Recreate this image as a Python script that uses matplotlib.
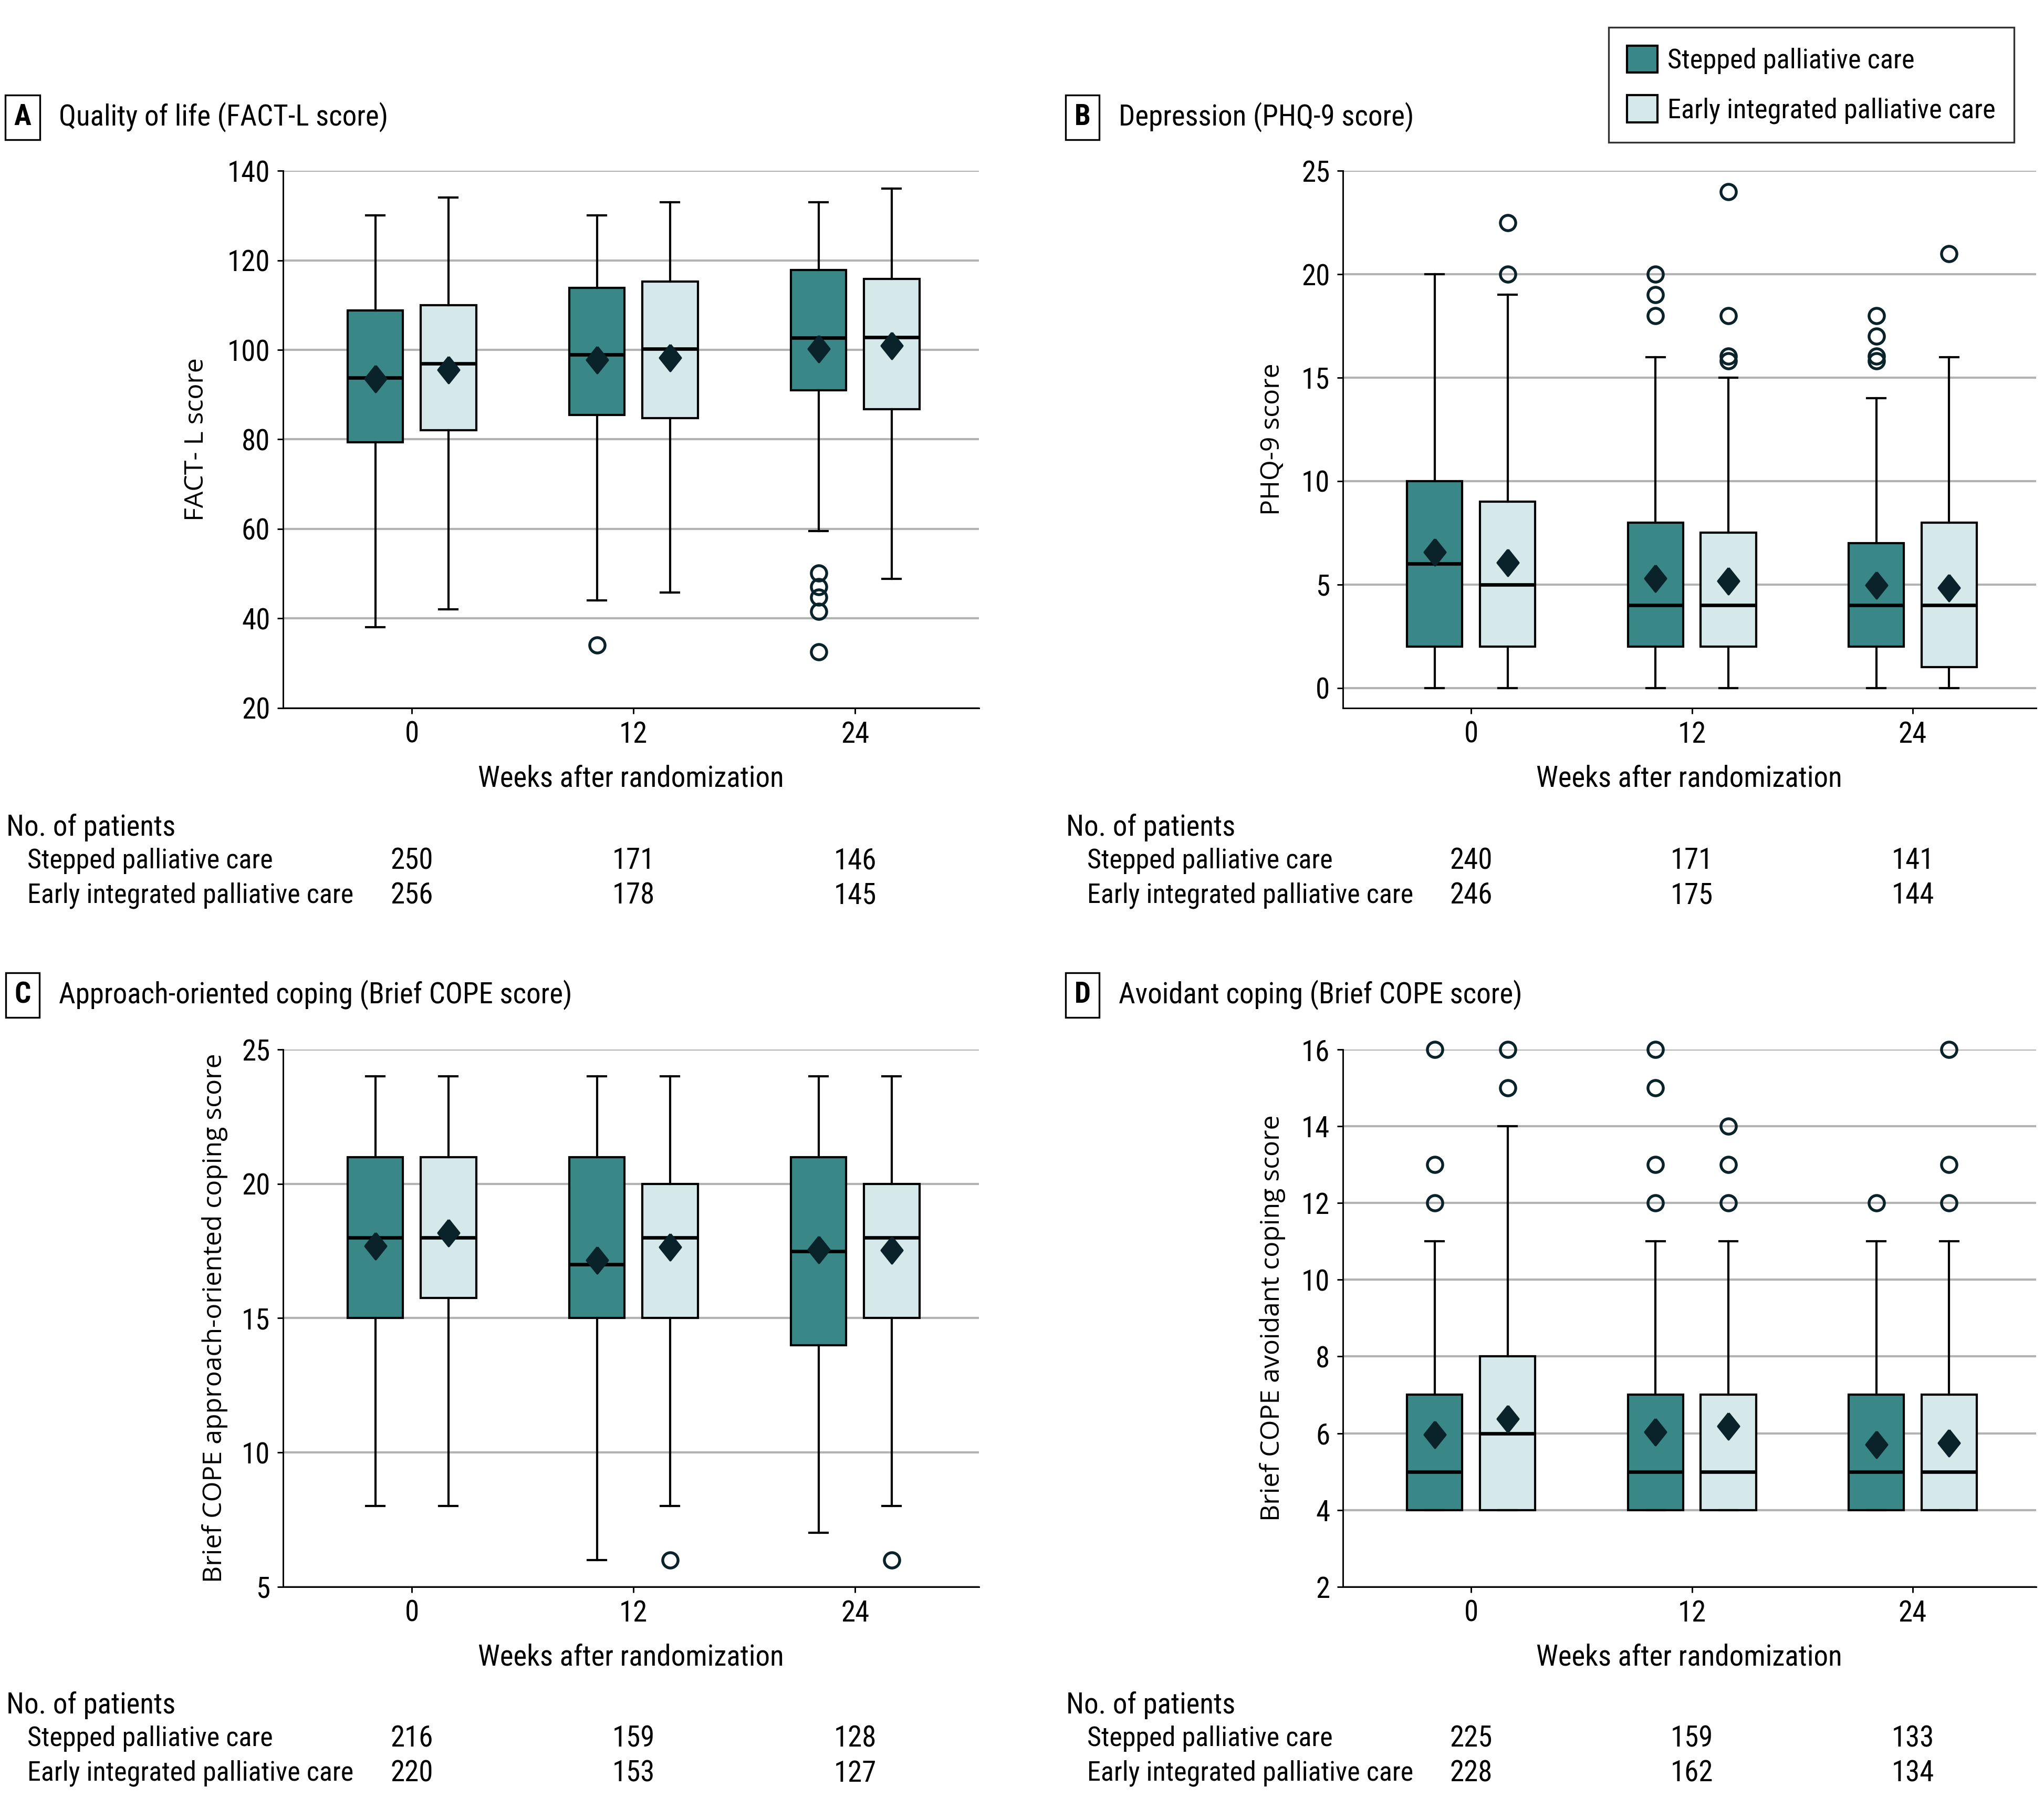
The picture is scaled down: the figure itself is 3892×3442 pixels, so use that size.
import matplotlib
matplotlib.use("Agg")
import matplotlib.pyplot as plt
import matplotlib.transforms as mtransforms
from matplotlib import font_manager as fm
from matplotlib.patches import Patch

# pick a narrow sans if one is installed (the reference uses a condensed face)
_fonts = {(f.name, f.stretch) for f in fm.fontManager.ttflist}
_names = {n for n, _ in _fonts}
FONT_STRETCH = 'normal'
if 'Liberation Sans Narrow' in _names:
    FONT = 'Liberation Sans Narrow'
elif 'Roboto Condensed' in _names:
    FONT = 'Roboto Condensed'
elif 'Open Sans Condensed' in _names:
    FONT = 'Open Sans Condensed'
elif 'DejaVu Sans Condensed' in _names:
    FONT = 'DejaVu Sans Condensed'
elif any(n == 'DejaVu Sans' and s in ('condensed', 'semi-condensed') for n, s in _fonts):
    FONT, FONT_STRETCH = 'DejaVu Sans', 'condensed'
elif any(n == 'Noto Sans' and s in ('condensed', 'semi-condensed', 'extra-condensed') for n, s in _fonts):
    FONT, FONT_STRETCH = 'Noto Sans', 'condensed'
else:
    FONT = 'DejaVu Sans'
plt.rcParams['font.family'] = [FONT, 'DejaVu Sans']
plt.rcParams['font.stretch'] = FONT_STRETCH
SCALE = 1.0 if FONT != 'DejaVu Sans' or FONT_STRETCH != 'normal' else 0.85
FS = 13.2 * SCALE      # titles, ticks, axis labels, counts
FS_ROW = 12.5 * SCALE  # group names in the patient table
FS_LEG = 12.6 * SCALE
plt.rcParams['font.size'] = FS

# ---- data (rows: stepped, early; columns: week 0, 12, 24) ----
weeks = ["0", "12", "24"]
groups = ["Stepped palliative care", "Early integrated palliative care"]

# A: FACT-L
factl_lo = [[38, 44, 59.5], [42, 45.8, 48.8]]
factl_q1 = [[79.3, 85.5, 91], [82, 84.8, 86.7]]
factl_med = [[93.8, 99, 102.7], [97, 100.3, 102.8]]
factl_q3 = [[108.8, 113.8, 117.8], [110, 115.3, 115.8]]
factl_hi = [[130, 130, 133], [134, 133, 136]]
factl_mean = [[93.5, 97.8, 100.3], [95.5, 98.3, 101]]
factl_out = [[[], [34], [50.1, 47.1, 44.7, 41.6, 32.5]], [[], [], []]]
factl_n = [[250, 171, 146], [256, 178, 145]]

# B: PHQ-9
phq_lo = [[0, 0, 0], [0, 0, 0]]
phq_q1 = [[2, 2, 2], [2, 2, 1]]
phq_med = [[6, 4, 4], [5, 4, 4]]
phq_q3 = [[10, 8, 7], [9, 7.5, 8]]
phq_hi = [[20, 16, 14], [19, 15, 16]]
phq_mean = [[6.57, 5.3, 4.98], [6.05, 5.18, 4.85]]
phq_out = [[[], [20, 19, 18], [18, 17, 16.05, 15.8]],
           [[22.5, 20], [24, 18, 16.05, 15.8], [21]]]
phq_n = [[240, 171, 141], [246, 175, 144]]

# C: approach-oriented coping
appr_lo = [[8, 6, 7], [8, 8, 8]]
appr_q1 = [[15, 15, 14], [15.75, 15, 15]]
appr_med = [[18, 17, 17.5], [18, 18, 18]]
appr_q3 = [[21, 21, 21], [21, 20, 20]]
appr_hi = [[24, 24, 24], [24, 24, 24]]
appr_mean = [[17.68, 17.16, 17.56], [18.18, 17.65, 17.53]]
appr_out = [[[], [], []], [[], [6], [6]]]
appr_n = [[216, 159, 128], [220, 153, 127]]

# D: avoidant coping
avoid_lo = [[4, 4, 4], [4, 4, 4]]
avoid_q1 = [[4, 4, 4], [4, 4, 4]]
avoid_med = [[5, 5, 5], [6, 5, 5]]
avoid_q3 = [[7, 7, 7], [8, 7, 7]]
avoid_hi = [[11, 11, 11], [14, 11, 11]]
avoid_mean = [[5.97, 6.04, 5.70], [6.38, 6.18, 5.75]]
avoid_out = [[[16, 13, 12], [16, 15, 13, 12], [12]], [[16, 15], [14, 13, 12], [16, 13, 12]]]
avoid_n = [[225, 159, 133], [228, 162, 134]]

# ---- style ----
TEAL = '#3a8787'
LIGHT = '#d5e9ea'
DARK = '#0a2229'
GRID = '#b3b3b3'
COLORS = [TEAL, LIGHT]
DIAMOND = [(0, 1), (0.8, 0), (0, -1), (-0.8, 0), (0, 1)]
LABEL_FONT = ['Open Sans', 'DejaVu Sans']

W, H = 3892, 3442
fig = plt.figure(figsize=(W / 300, H / 300), dpi=300)


def rect(left, top, right, bottom):
    return [left / W, 1 - bottom / H, (right - left) / W, (bottom - top) / H]


def draw_panel(box, letter, title, ylabel, ylab_x, yticks, ylim,
               lo, q1, med, q3, hi, mean, out, n, dx, dy):
    ax = fig.add_axes(rect(*box))
    for g in range(2):
        stats = []
        for w in range(3):
            stats.append(dict(whislo=lo[g][w], q1=q1[g][w], med=med[g][w], q3=q3[g][w],
                              whishi=hi[g][w], mean=mean[g][w], fliers=out[g][w]))
        pos = [w + (-0.165 if g == 0 else 0.165) for w in range(3)]
        bp = ax.bxp(stats, positions=pos, widths=0.25, capwidths=0.083,
                    patch_artist=True, showmeans=True, manage_ticks=False,
                    boxprops=dict(edgecolor='black', linewidth=1.0),
                    medianprops=dict(color='black', linewidth=1.6),
                    whiskerprops=dict(color='black', linewidth=1.0),
                    capprops=dict(color='black', linewidth=1.0),
                    meanprops=dict(marker=DIAMOND, markerfacecolor=DARK,
                                   markeredgecolor=DARK, markersize=12),
                    flierprops=dict(marker='o', markerfacecolor='none',
                                    markeredgecolor=DARK, markersize=7.0,
                                    markeredgewidth=1.3))
        for b in bp['boxes']:
            b.set_facecolor(COLORS[g])
        for f in bp['fliers']:
            f.set_clip_on(False)

    ax.set_xlim(-0.582, 2.559)
    ax.set_ylim(*ylim)
    ax.set_xticks(range(3))
    ax.set_xticklabels(weeks)
    ax.set_yticks(yticks)
    ax.yaxis.grid(True, color=GRID, linewidth=1.0)
    ax.set_axisbelow(True)
    for s in ['top', 'right']:
        ax.spines[s].set_visible(False)
    for s in ['left', 'bottom']:
        ax.spines[s].set_linewidth(0.7)
    ax.tick_params(axis='both', length=2.6, width=0.7, pad=3.2, labelsize=FS)

    ax.set_xlabel("Weeks after randomization", fontsize=FS)
    ax.xaxis.label.set_va('center')
    ax.xaxis.set_label_coords(0.5, -0.131)
    ax.set_ylabel(ylabel, fontsize=12, family=LABEL_FONT, stretch='normal')
    ax.yaxis.set_label_coords(ylab_x, 0.5)

    # panel header
    fig.text((43 + dx) / W, 1 - (223 + dy) / H, letter, ha='center', va='center',
             fontsize=FS, fontweight='bold',
             bbox=dict(boxstyle='square,pad=0.3', fc='white', ec='black', lw=0.8))
    fig.text((112 + dx) / W, 1 - (223 + dy) / H, title, ha='left', va='center', fontsize=FS)

    # number of patients table
    trans = mtransforms.blended_transform_factory(ax.transData, fig.transFigure)
    fig.text((12 + dx) / W, 1 - (1575 + dy) / H, "No. of patients", ha='left', va='center', fontsize=FS)
    for g in range(2):
        y = 1 - (1639 + 66 * g + dy) / H
        fig.text((52 + dx) / W, y, groups[g], ha='left', va='center', fontsize=FS_ROW)
        for w in range(3):
            ax.text(w, y, str(n[g][w]), transform=trans, ha='center', va='center', fontsize=FS)
    return ax


ROW2 = 1671
COL2 = 2018
draw_panel((538.6, 325.2, 1864.1, 1347.8), "A", "Quality of life (FACT-L score)",
           "FACT- L score", -0.105, range(20, 141, 20), (20, 140),
           factl_lo, factl_q1, factl_med, factl_q3, factl_hi, factl_mean, factl_out, factl_n, 0, 0)
draw_panel((2556.6, 325.2, 3877, 1347.8), "B", "Depression (PHQ-9 score)",
           "PHQ-9 score", -0.082, range(0, 26, 5), (-0.97, 25),
           phq_lo, phq_q1, phq_med, phq_q3, phq_hi, phq_mean, phq_out, phq_n, COL2, 0)
draw_panel((538.6, 1998.1, 1864.1, 3020.7), "C", "Approach-oriented coping (Brief COPE score)",
           "Brief COPE approach-oriented coping score", -0.079, range(5, 26, 5), (5, 25),
           appr_lo, appr_q1, appr_med, appr_q3, appr_hi, appr_mean, appr_out, appr_n, 0, ROW2)
draw_panel((2556.6, 1998.1, 3877, 3020.7), "D", "Avoidant coping (Brief COPE score)",
           "Brief COPE avoidant coping score", -0.082, range(2, 17, 2), (2, 16),
           avoid_lo, avoid_q1, avoid_med, avoid_q3, avoid_hi, avoid_mean, avoid_out, avoid_n, COL2, ROW2)

handles = [Patch(facecolor=c, edgecolor='black', linewidth=1.0, label=l) for c, l in zip(COLORS, groups)]
k = 12 / FS_LEG
leg = fig.legend(handles=handles, loc='upper right', bbox_to_anchor=(3835 / W, 1 - 52 / H),
                 borderaxespad=0, fontsize=FS_LEG, frameon=True, fancybox=False,
                 edgecolor='black', handlelength=1.16 * k, handleheight=1.18 * k,
                 handletextpad=0.38 * k, labelspacing=0.8 * k, borderpad=0.7 * k)
leg.get_frame().set_linewidth(0.8)

fig.savefig("out.png", dpi=300)
